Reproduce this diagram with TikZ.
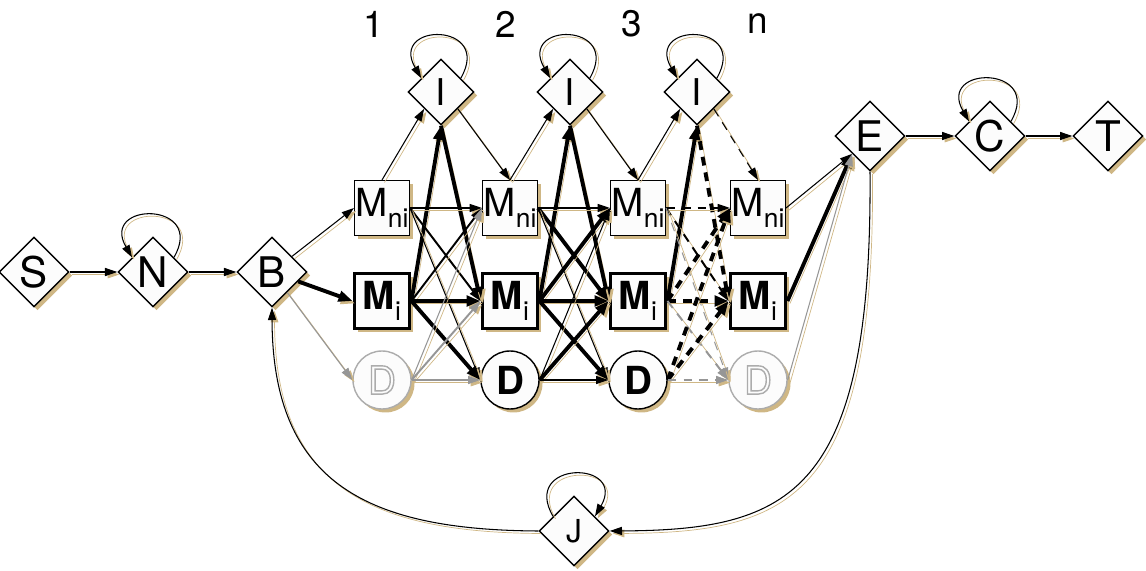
\documentclass[tikz,border=0pt]{standalone}
\usepackage{fontspec}
\setmainfont{TeX Gyre Heros}
\usetikzlibrary{shapes.geometric,arrows.meta,shadows}

\definecolor{sombra}{RGB}{207,183,133}
\definecolor{relleno}{RGB}{252,252,252}
\definecolor{gris}{RGB}{150,150,150}
\definecolor{grisclaro}{RGB}{172,172,172}

\newcommand{\etqMni}{M\raisebox{-6pt}{\fontsize{15}{15}\selectfont ni}}
\newcommand{\etqMi}{\textbf{M}\raisebox{-6pt}{\fontsize{15}{15}\selectfont i}}
\newcommand{\etqD}{\special{pdf:literal direct 1 Tr}D\special{pdf:literal direct 0 Tr}}

\begin{document}
\begin{tikzpicture}[
    sombreado/.style={drop shadow={shadow xshift=0.07cm, shadow yshift=-0.07cm, fill=sombra, opacity=1}},
    estado/.style={diamond, draw, line width=0.8pt, fill=relleno, minimum size=1.4cm, inner sep=0pt,
      font=\fontsize{24}{24}\selectfont, sombreado},
    inserc/.style={estado, minimum size=1.32cm, font=\fontsize{21}{21}\selectfont},
    caja/.style={rectangle, draw, line width=0.6pt, fill=relleno, minimum size=1.1cm, inner sep=0pt,
      font=\fontsize{22}{22}\selectfont, sombreado},
    cajaG/.style={caja, line width=2.2pt},
    circulo/.style={circle, draw, line width=0.8pt, fill=relleno, minimum size=1.16cm, inner sep=0pt,
      font=\fontsize{22}{22}\selectfont\bfseries, sombreado},
    circuloG/.style={circulo, draw=grisclaro, text=grisclaro, font=\fontsize{22}{22}\selectfont},
    numero/.style={font=\fontsize{21}{21}\selectfont},
    flecha/.style={-{Triangle[length=7pt,width=4.6pt]},
      preaction={draw=sombra, transform canvas={shift={(0.05,-0.05)}}}},
    fino/.style={flecha, line width=0.6pt},
    medio/.style={flecha, line width=1.1pt},
    grueso/.style={flecha, line width=2.2pt, -{Triangle[length=8pt,width=6pt]}},
    gris/.style={draw=gris},
    punteado/.style={dash pattern=on 5pt off 4pt}
  ]
    \useasboundingbox (0,0) rectangle (22.92,11.4);

    % Estados de entrada
    \node[estado] (S) at (0.68,5.96) {S};
    \node[estado] (N) at (3.06,5.96) {N};
    \node[estado] (B) at (5.44,5.96) {B};

    % Numeros de columna
    \node[numero] (num1) at (7.48,10.92) {1};
    \node[numero] (num2) at (10.12,10.92) {2};
    \node[numero] (num3) at (12.64,10.92) {3};
    \node[numero] (numn) at (15.16,10.92) {n};

    % Columnas del modelo
    \node[caja] (Mni1) at (7.64,7.24) {\etqMni};
    \node[cajaG] (Mi1) at (7.64,5.38) {\etqMi};
    \node[circuloG] (D1) at (7.64,3.8) {\etqD};
    \node[inserc] (I1) at (8.82,9.56) {I};

    \node[caja] (Mni2) at (10.2,7.24) {\etqMni};
    \node[cajaG] (Mi2) at (10.2,5.38) {\etqMi};
    \node[circulo] (D2) at (10.2,3.8) {D};
    \node[inserc] (I2) at (11.4,9.56) {I};

    \node[caja] (Mni3) at (12.76,7.24) {\etqMni};
    \node[cajaG] (Mi3) at (12.76,5.38) {\etqMi};
    \node[circulo] (D3) at (12.76,3.8) {D};
    \node[inserc] (I3) at (13.94,9.56) {I};

    \node[caja] (Mni4) at (15.16,7.24) {\etqMni};
    \node[cajaG] (Mi4) at (15.16,5.38) {\etqMi};
    \node[circuloG] (D4) at (15.16,3.8) {\etqD};

    % Estados de salida
    \node[estado] (E) at (17.4,8.68) {E};
    \node[estado] (C) at (19.8,8.68) {C};
    \node[estado] (T) at (22.16,8.68) {T};
    \node[estado, font=\fontsize{18}{18}\selectfont] (J) at (11.48,0.78) {J};

    % Entrada
    \draw[fino] (S) -- (N);
    \draw[fino] (N) -- (B);
    \draw[fino] (N.35) .. controls +(60:1.3) and +(120:1.3) .. (N.145);
    \draw[fino] (B) -- (Mni1.west);
    \draw[grueso] (B) -- (Mi1.west);
    \draw[fino, gris] (B) -- (D1.west);

    % Columna 1 a columna 2
    \draw[fino] (Mni1.north) -- (I1.south west);
    \draw[grueso] (Mi1.east) -- (I1.south);
    \draw[fino] (I1.35) .. controls +(60:1.3) and +(120:1.3) .. (I1.145);
    \draw[fino] (I1.south east) -- (Mni2.north);
    \draw[grueso] (I1.south) -- (Mi2.west);
    \draw[fino] (Mni1.east) -- (Mni2.west);
    \draw[medio] (Mni1.east) -- (Mi2.west);
    \draw[fino] (Mni1.east) -- (D2.west);
    \draw[medio] (Mi1.east) -- (Mni2.west);
    \draw[grueso] (Mi1.east) -- (Mi2.west);
    \draw[grueso] (Mi1.east) -- (D2.west);
    \draw[fino, gris] (D1.east) -- (Mni2.west);
    \draw[medio, gris] (D1.east) -- (Mi2.west);
    \draw[fino, gris] (D1.east) -- (D2.west);

    % Columna 2 a columna 3
    \draw[fino] (Mni2.north) -- (I2.south west);
    \draw[grueso] (Mi2.east) -- (I2.south);
    \draw[fino] (I2.35) .. controls +(60:1.3) and +(120:1.3) .. (I2.145);
    \draw[fino] (I2.south east) -- (Mni3.north);
    \draw[grueso] (I2.south) -- (Mi3.west);
    \draw[fino] (Mni2.east) -- (Mni3.west);
    \draw[grueso] (Mni2.east) -- (Mi3.west);
    \draw[fino] (Mni2.east) -- (D3.west);
    \draw[grueso] (Mi2.east) -- (Mni3.west);
    \draw[grueso] (Mi2.east) -- (Mi3.west);
    \draw[grueso] (Mi2.east) -- (D3.west);
    \draw[fino] (D2.east) -- (Mni3.west);
    \draw[grueso] (D2.east) -- (Mi3.west);
    \draw[fino] (D2.east) -- (D3.west);

    % Columna 3 a columna n (discontinuas)
    \draw[fino] (Mni3.north) -- (I3.south west);
    \draw[grueso] (Mi3.east) -- (I3.south);
    \draw[fino] (I3.35) .. controls +(60:1.3) and +(120:1.3) .. (I3.145);
    \draw[fino, punteado] (I3.south east) -- (Mni4.north);
    \draw[grueso, punteado] (I3.south) -- (Mi4.west);
    \draw[fino, punteado] (Mni3.east) -- (Mni4.west);
    \draw[medio, punteado] (Mni3.east) -- (Mi4.west);
    \draw[fino, punteado, gris] (Mni3.east) -- (D4.west);
    \draw[grueso, punteado] (Mi3.east) -- (Mni4.west);
    \draw[grueso, punteado] (Mi3.east) -- (Mi4.west);
    \draw[medio, punteado, gris] (Mi3.east) -- (D4.west);
    \draw[grueso, punteado] (D3.east) -- (Mni4.west);
    \draw[grueso, punteado] (D3.east) -- (Mi4.west);
    \draw[fino, punteado, gris] (D3.east) -- (D4.west);

    % Salida
    \draw[fino] (Mni4.east) -- (E.south west);
    \draw[grueso] (Mi4.east) -- (E.south west);
    \draw[fino, gris] (D4.east) -- (E.south west);
    \draw[fino] (E) -- (C);
    \draw[fino] (C.35) .. controls +(60:1.3) and +(120:1.3) .. (C.145);
    \draw[fino] (C) -- (T);

    % Vuelta por J
    \draw[fino] (E.south) .. controls (17.45,1.5) and (15.8,0.8) .. (J.east);
    \draw[fino] (J.145) .. controls +(120:1.3) and +(60:1.3) .. (J.35);
    \draw[fino] (J.west) .. controls (7.4,0.8) and (5.45,1.7) .. (B.south);
  \end{tikzpicture}
\end{document}
